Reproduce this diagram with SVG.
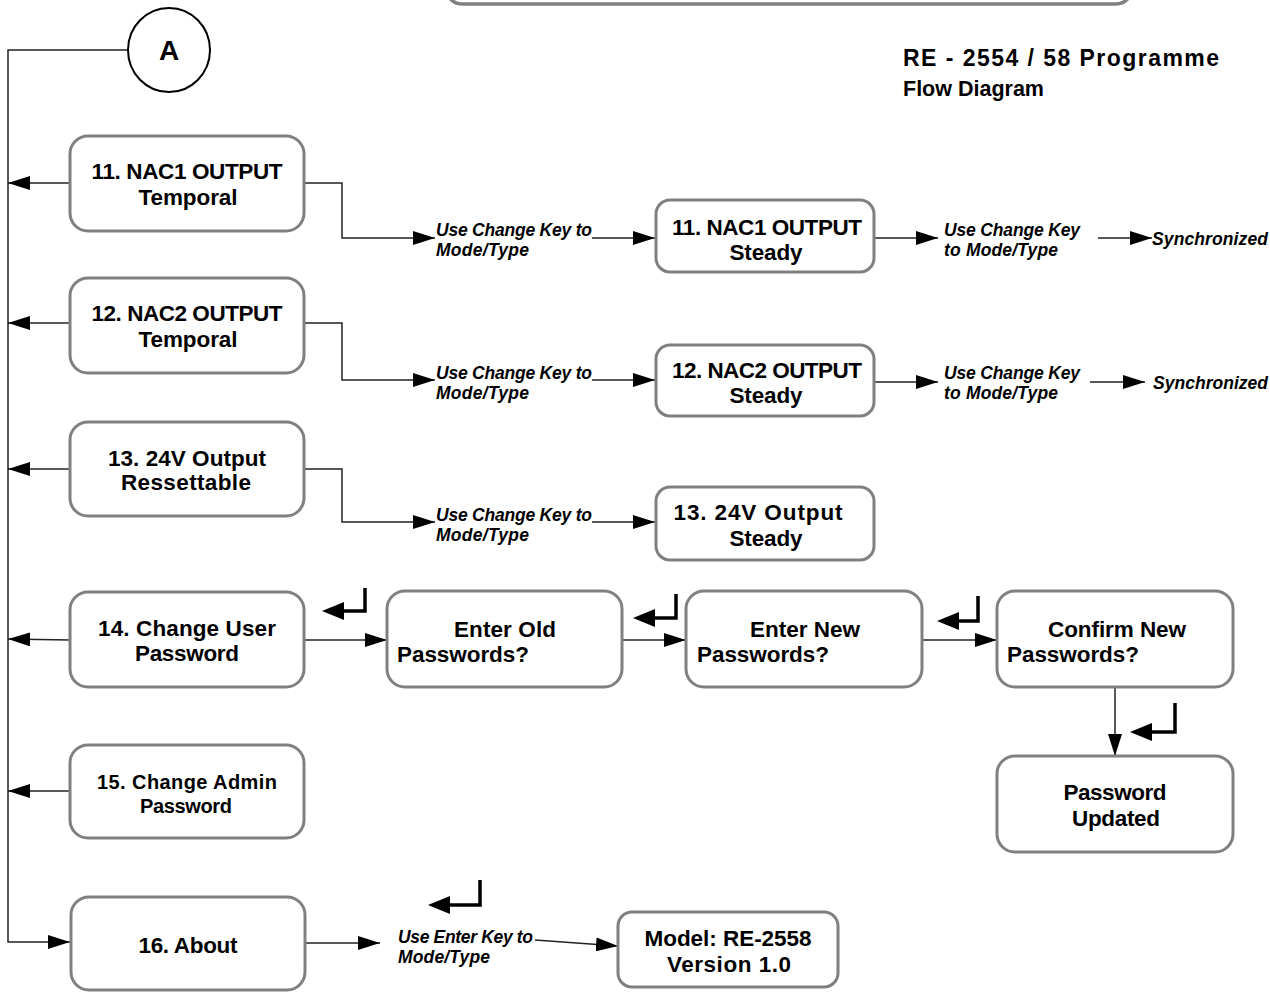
<svg xmlns="http://www.w3.org/2000/svg" width="1270" height="992" viewBox="0 0 1270 992">
<style>
.box{fill:#fff;stroke:#808080;stroke-width:3}
.t{font-family:"Liberation Sans",Arial,sans-serif;font-weight:bold;font-size:22.5px;fill:#000;text-anchor:middle}
.tl{font-family:"Liberation Sans",Arial,sans-serif;font-weight:bold;font-size:22.5px;fill:#000}
.lb{font-family:"Liberation Sans",Arial,sans-serif;font-weight:bold;font-style:italic;font-size:17.5px;fill:#000}
.ttl{font-family:"Liberation Sans",Arial,sans-serif;font-weight:bold;font-size:23px;fill:#000}
.ca{fill:none;stroke:#222;stroke-width:1.5;marker-end:url(#ah)}
.ent{fill:none;stroke:#000;stroke-width:3.5}
</style>
<defs>
<marker id="ah" markerUnits="userSpaceOnUse" markerWidth="22" markerHeight="14" refX="22" refY="7" orient="auto">
<path d="M0,0 L22,7 L0,14 z" fill="#000"/>
</marker>
</defs>

<rect x="446" y="-40" width="686" height="44" rx="16" fill="#fff" stroke="#808080" stroke-width="3.5"/>

<g id="title">
<text class="ttl" x="903" y="66" textLength="316">RE - 2554 / 58 Programme</text>
<text class="ttl" x="903" y="96" style="font-size:21.5px">Flow Diagram</text>
</g>

<g id="connectors">
<polyline class="ca" points="128,50 8,50 8,942 70,942"/>
<line class="ca" x1="70" y1="183" x2="8" y2="183"/>
<line class="ca" x1="70" y1="323" x2="8" y2="323"/>
<line class="ca" x1="70" y1="469" x2="8" y2="469"/>
<line class="ca" x1="70" y1="640" x2="8" y2="639"/>
<line class="ca" x1="70" y1="791" x2="8" y2="791"/>

<polyline class="ca" points="304,183 342,183 342,238 435,238"/>
<line class="ca" x1="592" y1="238" x2="655" y2="238"/>
<line class="ca" x1="874" y1="238" x2="938" y2="238"/>
<line class="ca" x1="1098" y1="238" x2="1152" y2="238"/>

<polyline class="ca" points="304,323 342,323 342,380 435,380"/>
<line class="ca" x1="592" y1="380" x2="655" y2="380"/>
<line class="ca" x1="874" y1="382" x2="938" y2="382"/>
<line class="ca" x1="1090" y1="382" x2="1145" y2="382"/>

<polyline class="ca" points="304,469 342,469 342,522 435,522"/>
<line class="ca" x1="592" y1="522" x2="655" y2="522"/>

<line class="ca" x1="304" y1="640" x2="387" y2="640"/>
<line class="ca" x1="622" y1="640" x2="686" y2="640"/>
<line class="ca" x1="922" y1="640" x2="997" y2="640"/>
<line class="ca" x1="1115" y1="687" x2="1115" y2="756"/>

<line class="ca" x1="305" y1="943" x2="380" y2="943"/>
<line class="ca" x1="535" y1="940" x2="618" y2="946"/>
</g>

<g id="labels">
<text class="lb" x="436" y="236" textLength="156">Use Change Key to</text>
<text class="lb" x="436" y="256" textLength="93">Mode/Type</text>
<text class="lb" x="944" y="236" textLength="136">Use Change Key</text>
<text class="lb" x="944" y="256" textLength="114">to Mode/Type</text>
<text class="lb" x="1152" y="245" textLength="116">Synchronized</text>

<text class="lb" x="436" y="379" textLength="156">Use Change Key to</text>
<text class="lb" x="436" y="399" textLength="93">Mode/Type</text>
<text class="lb" x="944" y="379" textLength="136">Use Change Key</text>
<text class="lb" x="944" y="399" textLength="114">to Mode/Type</text>
<text class="lb" x="1153" y="389" textLength="115">Synchronized</text>

<text class="lb" x="436" y="521" textLength="156">Use Change Key to</text>
<text class="lb" x="436" y="541" textLength="93">Mode/Type</text>

<text class="lb" x="398" y="943" textLength="135">Use Enter Key to</text>
<text class="lb" x="398" y="963" textLength="92">Mode/Type</text>
</g>

<g id="enter-icons">
<polyline class="ent" points="365,588 365,611 342,611"/>
<path d="M322,611 L344,602 L344,620 z" fill="#000"/>
<polyline class="ent" points="676,594 676,618 653,618"/>
<path d="M633,618 L655,609 L655,627 z" fill="#000"/>
<polyline class="ent" points="978,596 978,621 957,621"/>
<path d="M937,621 L959,612 L959,630 z" fill="#000"/>
<polyline class="ent" points="1175,703 1175,732 1152,732"/>
<path d="M1130,732 L1152,723 L1152,741 z" fill="#000"/>
<polyline class="ent" points="480,880 480,905 450,905"/>
<path d="M428,905 L450,896 L450,914 z" fill="#000"/>
</g>

<g id="nodeA">
<ellipse cx="169" cy="50" rx="41" ry="42" fill="#fff" stroke="#000" stroke-width="2"/>
<text class="t" x="169" y="60" style="font-size:28px">A</text>
</g>

<g id="n11">
<rect class="box" x="70" y="136" width="234" height="95" rx="18"/>
<text class="t" x="187" y="179" textLength="191">11. NAC1 OUTPUT</text>
<text class="t" x="188" y="205" textLength="99">Temporal</text>
</g>
<g id="n12">
<rect class="box" x="70" y="278" width="234" height="95" rx="18"/>
<text class="t" x="187" y="321" textLength="191">12. NAC2 OUTPUT</text>
<text class="t" x="188" y="347" textLength="99">Temporal</text>
</g>
<g id="n13">
<rect class="box" x="70" y="422" width="234" height="94" rx="18"/>
<text class="t" x="187" y="466" textLength="158">13. 24V Output</text>
<text class="t" x="186" y="490" textLength="130">Ressettable</text>
</g>
<g id="n14">
<rect class="box" x="70" y="592" width="234" height="95" rx="18"/>
<text class="t" x="187" y="636" textLength="178">14. Change User</text>
<text class="t" x="187" y="661" textLength="104">Password</text>
</g>
<g id="n15">
<rect class="box" x="70" y="745" width="234" height="93" rx="18"/>
<text class="t" x="187" y="789" style="font-size:20px" textLength="180">15. Change Admin</text>
<text class="t" x="186" y="813" style="font-size:20px" textLength="92">Password</text>
</g>
<g id="n16">
<rect class="box" x="71" y="897" width="234" height="93" rx="18"/>
<text class="t" x="188" y="953" textLength="99">16. About</text>
</g>

<g id="n11s">
<rect class="box" x="656" y="200" width="218" height="72" rx="14"/>
<text class="t" x="767" y="235" textLength="190">11. NAC1 OUTPUT</text>
<text class="t" x="766" y="260" textLength="73">Steady</text>
</g>
<g id="n12s">
<rect class="box" x="656" y="345" width="218" height="71" rx="14"/>
<text class="t" x="767" y="378" textLength="190">12. NAC2 OUTPUT</text>
<text class="t" x="766" y="403" textLength="73">Steady</text>
</g>
<g id="n13s">
<rect class="box" x="656" y="487" width="218" height="73" rx="14"/>
<text class="t" x="758" y="520" textLength="169">13. 24V Output</text>
<text class="t" x="766" y="546" textLength="73">Steady</text>
</g>

<g id="nOld">
<rect class="box" x="387" y="591" width="235" height="96" rx="18"/>
<text class="t" x="505" y="637" textLength="102">Enter Old</text>
<text class="tl" x="397" y="662" textLength="132">Passwords?</text>
</g>
<g id="nNew">
<rect class="box" x="686" y="591" width="236" height="96" rx="18"/>
<text class="t" x="805" y="637" textLength="110">Enter New</text>
<text class="tl" x="697" y="662" textLength="132">Passwords?</text>
</g>
<g id="nConfirm">
<rect class="box" x="997" y="591" width="236" height="96" rx="18"/>
<text class="t" x="1117" y="637" textLength="138">Confirm New</text>
<text class="tl" x="1007" y="662" textLength="132">Passwords?</text>
</g>
<g id="nUpdated">
<rect class="box" x="997" y="756" width="236" height="96" rx="18"/>
<text class="t" x="1115" y="800" textLength="103">Password</text>
<text class="t" x="1116" y="826" textLength="88">Updated</text>
</g>

<g id="nModel">
<rect class="box" x="618" y="912" width="220" height="75" rx="14"/>
<text class="t" x="728" y="946" textLength="167">Model: RE-2558</text>
<text class="t" x="729" y="972" textLength="124">Version 1.0</text>
</g>
</svg>
